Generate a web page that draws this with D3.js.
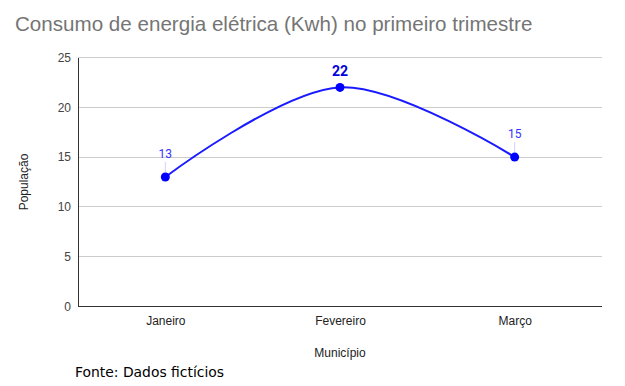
<!DOCTYPE html>
<html><head><meta charset="utf-8">
<script src="https://cdn.jsdelivr.net/npm/d3@7"></script>
<style>body{margin:0;background:#fff}svg{display:block}</style>
</head><body>
<script>
const categories = ["Janeiro", "Fevereiro", "Março"];
const values = [13, 22, 15];
const yTicks = [0, 5, 10, 15, 20, 25];
const title = "Consumo de energia elétrica (Kwh) no primeiro trimestre";
const yLabel = "População";
const xLabel = "Município";
const source = "Fonte: Dados fictícios";

const W = 625, H = 386;
const m = {left: 78, right: 23, top: 57.5, bottom: 79.5};
const svg = d3.select("body").append("svg").attr("width", W).attr("height", H);

const x = d3.scalePoint().domain(categories).range([m.left, W - m.right]).padding(0.5);
const y = d3.scaleLinear().domain([0, 25]).range([H - m.bottom, m.top]);

svg.append("text").attr("x", 15).attr("y", 31).text(title)
  .attr("font-family", "Liberation Sans, Arial, sans-serif").attr("font-size", 20.6).attr("fill", "#757575");

// grid
svg.append("g").selectAll("line").data(yTicks.filter(d => d > 0)).join("line")
  .attr("x1", m.left).attr("x2", W - m.right)
  .attr("y1", d => y(d)).attr("y2", d => y(d))
  .attr("stroke", "#cccccc").attr("stroke-width", 1).attr("shape-rendering", "crispEdges");

const yAxis = svg.append("g").attr("transform", `translate(${m.left},0)`)
  .call(d3.axisLeft(y).tickValues(yTicks).tickSize(0).tickPadding(7));
yAxis.select(".domain").attr("stroke", "#333").attr("shape-rendering", "crispEdges");
yAxis.selectAll("text").attr("font-family", "Liberation Sans, Arial, sans-serif").attr("font-size", 12).attr("fill", "#444");

const xAxis = svg.append("g").attr("transform", `translate(0,${y(0)})`)
  .call(d3.axisBottom(x).tickSize(0).tickPadding(10));
xAxis.select(".domain").attr("stroke", "#333").attr("stroke-width", 1.3).attr("shape-rendering", "crispEdges")
  .attr("d", `M${m.left},0H${W - m.right}`);
xAxis.selectAll("text").attr("font-family", "Liberation Sans, Arial, sans-serif").attr("font-size", 12).attr("fill", "#222");

svg.append("text").attr("transform", `translate(28,${(y(0) + y(25)) / 2}) rotate(-90)`)
  .attr("text-anchor", "middle").text(yLabel)
  .attr("font-family", "Liberation Sans, Arial, sans-serif").attr("font-size", 12).attr("fill", "#222");
svg.append("text").attr("x", x(categories[1])).attr("y", 357).attr("text-anchor", "middle").text(xLabel)
  .attr("font-family", "Liberation Sans, Arial, sans-serif").attr("font-size", 12).attr("fill", "#222");
svg.append("text").attr("x", 75).attr("y", 377).text(source)
  .attr("font-family", "DejaVu Sans, sans-serif").attr("font-size", 13.9).attr("fill", "#000");

const data = categories.map((c, i) => ({c, v: values[i]}));
const line = d3.line().x(d => x(d.c)).y(d => y(d.v)).curve(d3.curveCatmullRom.alpha(0.5));
svg.append("path").datum(data).attr("d", line).attr("fill", "none")
  .attr("stroke", "#1a1aff").attr("stroke-width", 2);

// leader lines
svg.append("g").selectAll("line").data(data.filter((d, i) => i !== 1)).join("line")
  .attr("x1", d => x(d.c)).attr("x2", d => x(d.c))
  .attr("y1", d => y(d.v) - 5).attr("y2", d => y(d.v) - 15)
  .attr("stroke", "#d0d0ff").attr("stroke-width", 1);

svg.append("g").selectAll("circle").data(data).join("circle")
  .attr("cx", d => x(d.c)).attr("cy", d => y(d.v)).attr("r", 4.5).attr("fill", "#0000ff");

svg.append("g").selectAll("text").data(data).join("text")
  .attr("x", d => x(d.c)).attr("y", (d, i) => i === 1 ? y(d.v) - 11 : y(d.v) - 19)
  .attr("text-anchor", "middle").text(d => d.v)
  .attr("font-family", "Roboto, sans-serif")
  .attr("font-size", (d, i) => i === 1 ? 14 : 12)
  .attr("font-weight", (d, i) => i === 1 ? "bold" : "normal")
  .attr("fill", (d, i) => i === 1 ? "#0000e0" : "#3333ff");
</script>
</body></html>
